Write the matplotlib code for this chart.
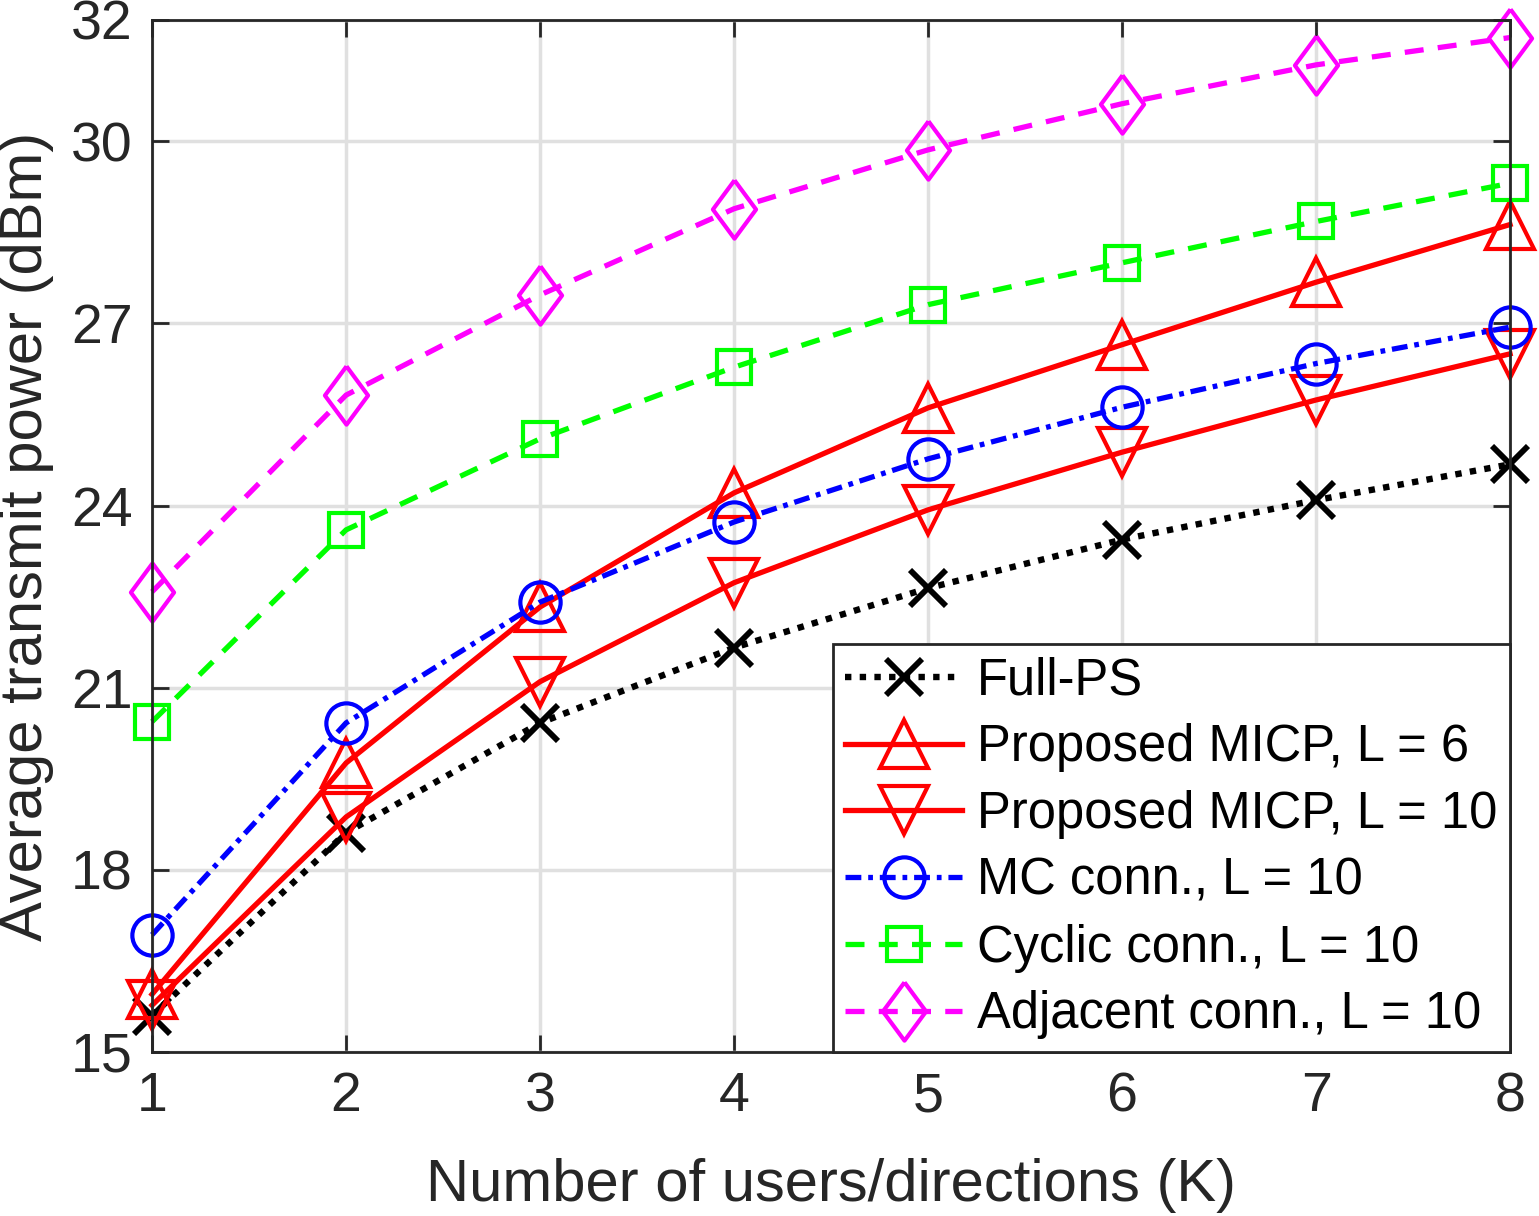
import matplotlib.pyplot as plt

plt.rcParams['font.family'] = ['Liberation Sans', 'DejaVu Sans']

# data
users = [1, 2, 3, 4, 5, 6, 7, 8]
full_ps = [15.6, 18.61, 20.42, 21.66, 22.64, 23.44, 24.09, 24.68]
micp_l6 = [15.95, 19.76, 22.33, 24.21, 25.61, 26.65, 27.68, 28.63]
micp_l10 = [15.77, 18.87, 21.10, 22.73, 23.93, 24.88, 25.74, 26.50]
mc_conn = [16.93, 20.42, 22.41, 23.73, 24.77, 25.62, 26.34, 26.94]
cyclic_conn = [20.44, 23.60, 25.10, 26.28, 27.31, 28.00, 28.68, 29.31]
adjacent_conn = [22.58, 25.82, 27.47, 28.89, 29.86, 30.62, 31.26, 31.71]

y_ticks = [15, 18, 21, 24, 27, 30, 32]

# matlab style thin diamond
diamond = [(0, 1), (0.74, 0), (0, -1), (-0.74, 0), (0, 1)]

fig = plt.figure(figsize=(15.39, 12.16), dpi=100)
ax = fig.add_axes([0.0988, 0.1349, 0.8824, 0.8487])

lw = 3.8
mew = 3

ax.plot(users, full_ps, color='k', linestyle=(0, (1, 1.3)), lw=4.6, marker='x',
        ms=26, mew=mew + 1.2, label='Full-PS', clip_on=False)
ax.plot(users, micp_l6, color='r', linestyle='-', lw=lw, marker='^',
        ms=34, mew=mew, mfc='none', label='Proposed MICP, L = 6', clip_on=False)
ax.plot(users, micp_l10, color='r', linestyle='-', lw=lw, marker='v',
        ms=34, mew=mew, mfc='none', label='Proposed MICP, L = 10', clip_on=False)
ax.plot(users, mc_conn, color='b', linestyle=(0, (3.0, 1.3, 0.9, 1.3)), lw=lw, marker='o',
        ms=29, mew=mew, mfc='none', label='MC conn., L = 10', clip_on=False)
ax.plot(users, cyclic_conn, color='#00ff00', linestyle=(0, (3.6, 2.7)), lw=lw, marker='s',
        ms=25, mew=mew, mfc='none', label='Cyclic conn., L = 10', clip_on=False)
ax.plot(users, adjacent_conn, color='#ff00ff', linestyle=(0, (3.6, 2.7)), lw=lw, marker=diamond,
        ms=42, mew=mew, mfc='none', label='Adjacent conn., L = 10', clip_on=False)

ax.set_xlim(1, 8)
ax.set_ylim(15, 32)
ax.set_xticks(users)
ax.set_yticks(y_ticks)
ax.tick_params(direction='in', length=12, width=2, labelsize=40, colors='#262626',
               top=True, right=True, pad=14)
for s in ax.spines.values():
    s.set_linewidth(2)
    s.set_color('#262626')
ax.grid(True, color='#e0e0e0', lw=2.5)
ax.set_axisbelow(True)

ax.set_xlabel('Number of users/directions (K)', fontsize=43, color='#262626', labelpad=25)
ax.set_ylabel('Average transmit power (dBm)', fontsize=43, color='#262626', labelpad=12)

leg = ax.legend(loc='lower right', fontsize=36.5, fancybox=False, framealpha=1,
                edgecolor='#262626', borderaxespad=0, handlelength=2.3,
                labelspacing=0.35, borderpad=0.25, handletextpad=0.3)
leg.get_frame().set_linewidth(2)

fig.savefig('out.png', dpi=100)
